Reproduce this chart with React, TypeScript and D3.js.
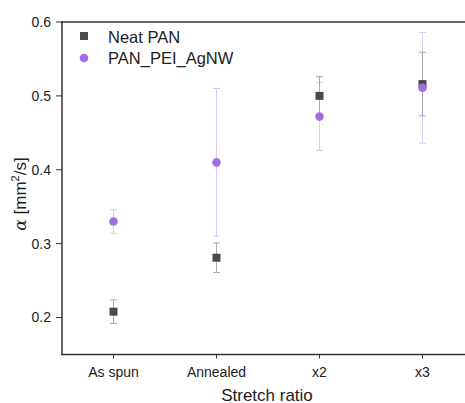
import React from "react";
import * as d3 from "d3";

const categories = ["As spun", "Annealed", "x2", "x3"];
const neatValues = [0.208, 0.281, 0.5, 0.516];
const neatErrors = [0.016, 0.02, 0.026, 0.043];
const agnwValues = [0.33, 0.41, 0.472, 0.511];
const agnwErrors = [0.016, 0.1, 0.046, 0.075];
const yTicks = [0.2, 0.3, 0.4, 0.5, 0.6];

const W = 465;
const H = 403;

export default function App() {
  const x = d3.scaleLinear().domain([-0.5, 3.5]).range([62, 474]);
  const y = d3.scaleLinear().domain([0.15, 0.6]).range([354.5, 22]);
  const axisColor = "#333";
  const font = "Liberation Sans, Arial, sans-serif";
  const neatColor = "#4a4a4a";
  const agnwColor = "#a46ddf";
  const neatErrColor = "#a9a9a9";
  const agnwErrColor = "#dcc8f0";
  const cap = 3.5;

  const errBar = (i: number, v: number, e: number, color: string, key: string) => {
    const cx = x(i);
    return (
      <g key={key} stroke={color} strokeWidth={1}>
        <line x1={cx} x2={cx} y1={y(v + e)} y2={y(v - e)} />
        <line x1={cx - cap} x2={cx + cap} y1={y(v + e)} y2={y(v + e)} />
        <line x1={cx - cap} x2={cx + cap} y1={y(v - e)} y2={y(v - e)} />
      </g>
    );
  };

  return (
    <svg width={W} height={H} style={{ position: "absolute", left: 0, top: 0, background: "#fff" }} fontFamily={font}>
      {/* error bars */}
      {agnwValues.map((v, i) => errBar(i, v, agnwErrors[i], agnwErrColor, "ae" + i))}
      {neatValues.map((v, i) => errBar(i, v, neatErrors[i], neatErrColor, "ne" + i))}
      {/* markers */}
      {neatValues.map((v, i) => (
        <rect key={"n" + i} x={x(i) - 4} y={y(v) - 4} width={8} height={8} fill={neatColor} />
      ))}
      {agnwValues.map((v, i) => (
        <circle key={"a" + i} cx={x(i)} cy={y(v)} r={4.3} fill={agnwColor} />
      ))}
      {/* axes */}
      <g stroke={axisColor} strokeWidth={1.5} fill="none">
        <line x1={62} x2={62} y1={21.25} y2={355.25} />
        <line x1={61.25} x2={474} y1={y(0.15)} y2={y(0.15)} />
        <line x1={61.25} x2={474} y1={y(0.6)} y2={y(0.6)} />
      </g>
      {yTicks.map((t) => (
        <g key={t}>
          <line x1={56} x2={62} y1={y(t)} y2={y(t)} stroke={axisColor} strokeWidth={1} />
          <text x={51} y={y(t)} dy="0.35em" textAnchor="end" fontSize={14} fill="#222">
            {t.toFixed(1)}
          </text>
        </g>
      ))}
      {categories.map((c, i) => (
        <g key={c}>
          <line x1={x(i)} x2={x(i)} y1={y(0.15)} y2={y(0.15) + 4} stroke={axisColor} strokeWidth={1} />
          <text x={x(i)} y={377} textAnchor="middle" fontSize={14} fill="#222">
            {c}
          </text>
        </g>
      ))}
      <text x={267} y={400.5} textAnchor="middle" fontSize={17} fill="#222">
        Stretch ratio
      </text>
      <text transform={`translate(26,194) rotate(-90)`} textAnchor="middle" fontSize={17} fill="#222">
        <tspan fontFamily="DejaVu Serif, serif" fontStyle="italic">α</tspan>
        <tspan> [mm</tspan>
        <tspan fontSize={11} dy={-7}>2</tspan>
        <tspan dy={7}>/s]</tspan>
      </text>
      {/* legend */}
      <rect x={80} y={32} width={8} height={8} fill={neatColor} />
      <text x={108} y={43} fontSize={16.5} fill="#222">Neat PAN</text>
      <circle cx={84} cy={58} r={4.3} fill={agnwColor} />
      <text x={108} y={64} fontSize={16.5} fill="#222">PAN_PEI_AgNW</text>
    </svg>
  );
}
